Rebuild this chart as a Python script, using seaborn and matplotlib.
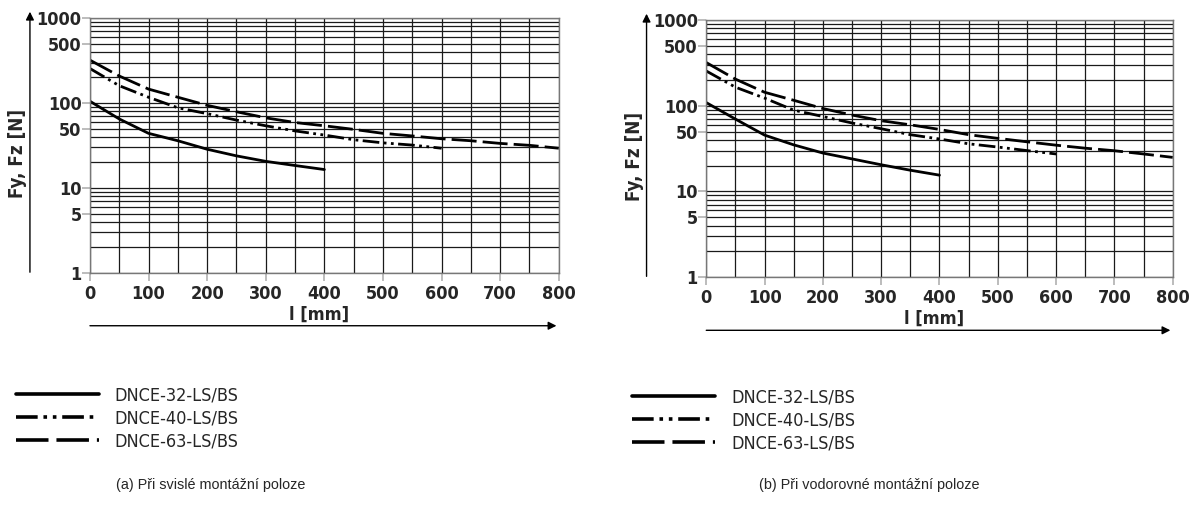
import pandas as pd
import matplotlib
matplotlib.use('Agg')
import matplotlib.pyplot as plt
import matplotlib.ticker as mticker
from matplotlib.lines import Line2D
import seaborn as sns

# stroke l [mm] and force Fy, Fz [N]
models = ['DNCE-32-LS/BS', 'DNCE-40-LS/BS', 'DNCE-63-LS/BS']

l_32 = [0, 50, 100, 150, 200, 250, 300, 350, 400]
l_40 = [0, 50, 100, 150, 200, 250, 300, 350, 400, 450, 500, 550, 600]
l_63 = [0, 50, 100, 150, 200, 250, 300, 350, 400, 450, 500, 550, 600, 650, 700, 750, 800]

# (a) vertical mounting
a_32 = [105, 65, 44, 36, 28.6, 23.9, 20.6, 18.4, 16.5]
a_40 = [255, 160, 117, 88, 75, 63, 54, 47, 42, 37, 34, 32, 29.4]
a_63 = [320, 208, 146, 117, 94, 79, 67, 59, 54, 49, 44, 41, 38, 36, 33.5, 31.8, 29.4]

# (b) horizontal mounting
b_32 = [109, 70, 45.5, 35, 28.1, 24, 20.5, 17.7, 15.5]
b_40 = [255, 165, 123, 89, 75, 63, 54, 46, 41, 36, 33, 30, 27.4]
b_63 = [320, 205, 144, 116, 93, 78, 67, 60, 53, 46, 41.7, 38, 34.7, 32, 29.9, 27.4, 25]

captions = ['(a) Při svislé montážní poloze', '(b) Při vodorovné montážní poloze']
y_ticks = [1, 5, 10, 50, 100, 500, 1000]
x_ticks = [0, 100, 200, 300, 400, 500, 600, 700, 800]

sns.set_style('white')
plt.rcParams['font.family'] = ['DejaVu Sans']
cond = dict(family='DejaVu Sans', stretch='condensed')


def make_df(v32, v40, v63):
    parts = []
    for name, xs, ys in zip(models, [l_32, l_40, l_63], [v32, v40, v63]):
        parts.append(pd.DataFrame({'l': xs, 'F': ys, 'model': name}))
    return pd.concat(parts, ignore_index=True)


dash_40 = (6, 1.6, 1.0, 1.6, 1.0, 1.6)
dash_63 = (9, 2.2)
dash_styles = {'DNCE-32-LS/BS': '', 'DNCE-40-LS/BS': dash_40, 'DNCE-63-LS/BS': dash_63}

fig = plt.figure(figsize=(11.93, 5.17), dpi=100)
ax_a = fig.add_axes([0.0754, 0.472, 0.393, 0.493])
ax_b = fig.add_axes([0.592, 0.464, 0.391, 0.497])

panels = [(ax_a, make_df(a_32, a_40, a_63)), (ax_b, make_df(b_32, b_40, b_63))]

for ax, df in panels:
    sns.lineplot(data=df, x='l', y='F', hue='model', style='model',
                 palette=['black'] * 3, dashes=dash_styles, linewidth=2.0,
                 legend=False, ax=ax)
    ax.set_yscale('log')
    ax.set_xlim(0, 800)
    ax.set_ylim(1, 1000)

    ax.set_yticks(y_ticks)
    ax.set_yticklabels([str(t) for t in y_ticks])
    ax.yaxis.set_minor_locator(mticker.LogLocator(base=10, subs=range(1, 10)))
    ax.yaxis.set_minor_formatter(mticker.NullFormatter())
    ax.set_xticks(x_ticks)
    ax.xaxis.set_minor_locator(mticker.MultipleLocator(50))

    ax.grid(True, which='both', color='#1a1a1a', linewidth=0.9)
    ax.set_axisbelow(True)
    for s in ax.spines.values():
        s.set_color('#777777')
        s.set_linewidth(1.0)

    ax.tick_params(axis='both', which='major', length=5.5, width=1.2,
                   color='#b0b0b0', pad=0.5, direction='out',
                   left=True, bottom=True)
    ax.tick_params(axis='x', which='major', pad=3)
    ax.tick_params(axis='both', which='minor', length=0)
    for lab in ax.get_xticklabels() + ax.get_yticklabels():
        lab.set_fontsize(13)
        lab.set_fontweight('semibold')
        lab.set_fontstretch('condensed')

    ax.set_ylabel('Fy, Fz [N]', fontsize=13.5, fontweight='bold', **cond)
    ax.yaxis.set_label_coords(-0.134, 0.47)
    ax.set_xlabel('l [mm]', fontsize=13, fontweight='bold', **cond)
    ax.xaxis.set_label_coords(0.488, -0.128)

    # axis arrows
    ax.annotate('', xy=(-0.128, 1.025), xytext=(-0.128, 0.003),
                xycoords='axes fraction', textcoords='axes fraction',
                arrowprops=dict(arrowstyle='-|>', color='black', lw=1.0,
                                mutation_scale=12, shrinkA=0, shrinkB=0),
                annotation_clip=False)
    ax.annotate('', xy=(0.995, -0.207), xytext=(0.0, -0.207),
                xycoords='axes fraction', textcoords='axes fraction',
                arrowprops=dict(arrowstyle='-|>', color='black', lw=1.0,
                                mutation_scale=12, shrinkA=0, shrinkB=0),
                annotation_clip=False)

# legends below each chart
handles = [Line2D([], [], color='black', linewidth=2.6, linestyle='-'),
           Line2D([], [], color='black', linewidth=2.6, dashes=dash_40),
           Line2D([], [], color='black', linewidth=2.6, dashes=dash_63)]

for xpos, ypos in [(0.013, 0.252), (0.530, 0.248)]:
    fig.legend(handles, models, loc='upper left', bbox_to_anchor=(xpos, ypos),
               frameon=False, handlelength=4.6, handletextpad=0.9,
               labelspacing=0.27, borderpad=0, borderaxespad=0,
               prop=dict(size=13, **cond))

fig.text(0.177, 0.062, captions[0], ha='center', va='center',
         fontsize=10.4, family='Liberation Sans')
fig.text(0.729, 0.062, captions[1], ha='center', va='center',
         fontsize=10.4, family='Liberation Sans')

fig.savefig('out.png', dpi=100)
